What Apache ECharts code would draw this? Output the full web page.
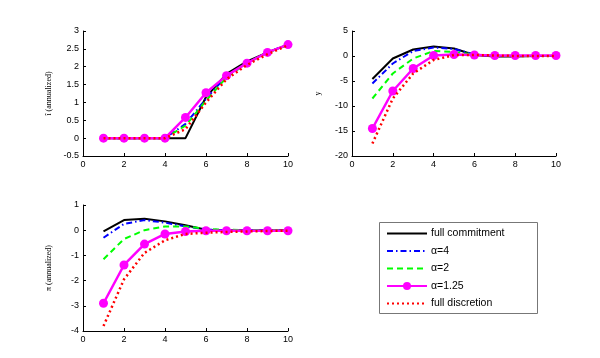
<!DOCTYPE html>
<html><head><meta charset="utf-8">
<script src="https://cdn.jsdelivr.net/npm/echarts@6/dist/echarts.min.js"></script>
<style>html,body{margin:0;padding:0;background:#fff}#c{width:600px;height:358px}</style>
</head><body><div id="c"></div>
<script>
const periods = [1,2,3,4,5,6,7,8,9,10];
const names = ['full commitment','\u03b1=4','\u03b1=2','\u03b1=1.25','full discretion'];
// interest rate (annualized)
const iCommit = [0,0,0,0,0,1.15,1.8,2.15,2.4,2.62];
const iA4     = [0,0,0,0,0.4,1.1,1.75,2.1,2.4,2.62];
const iA2     = [0,0,0,0,0.35,1.05,1.7,2.1,2.4,2.6];
const iA125   = [0,0,0,0,0.58,1.27,1.75,2.1,2.4,2.62];
const iDisc   = [0,0,0,0,0.25,1.0,1.65,2.05,2.35,2.6];
// output gap
const yCommit = [-4.6,-0.5,1.3,1.9,1.5,0.2,-0.1,-0.1,0,0];
const yA4     = [-5.5,-1.5,1.0,1.7,1.4,0.3,0,0,0,0];
const yA2     = [-8.5,-3.5,-0.5,1.0,0.8,0.3,0.1,0,0,0];
const yA125   = [-14.5,-7.0,-2.5,0.1,0.3,0.2,0.1,0.1,0.1,0.1];
const yDisc   = [-17.5,-8.5,-3.5,-0.8,0.2,0.2,0.1,0,0,0];
// inflation (annualized)
const pCommit = [-0.05,0.4,0.45,0.35,0.2,0.02,0,0,0,0];
const pA4     = [-0.3,0.25,0.4,0.3,0.15,0.03,0,0,0,0];
const pA2     = [-1.15,-0.35,0,0.15,0.15,0.05,0.02,0,0,0];
const pA125   = [-2.9,-1.38,-0.55,-0.15,-0.05,-0.02,-0.02,-0.02,-0.02,-0.02];
const pDisc   = [-3.8,-1.95,-0.9,-0.4,-0.15,-0.1,-0.07,-0.05,-0.03,-0.02];

const yTicksI = {min:-0.5,max:3,interval:0.5};
const yTicksY = {min:-20,max:5,interval:5};
const yTicksP = {min:-4,max:1,interval:1};

const styles = [
  {color:'#000000', type:'solid', width:2},
  {color:'#0000ff', type:[6,3,1.5,3], width:2},
  {color:'#00ff00', type:[6,4], width:2},
  {color:'#ff00ff', type:'solid', width:2.5, symbol:true},
  {color:'#ff0000', type:[2,3], width:2.5}
];
const groups = [[iCommit,iA4,iA2,iA125,iDisc],[yCommit,yA4,yA2,yA125,yDisc],[pCommit,pA4,pA2,pA125,pDisc]];

const axLabel = {color:'#000', fontSize:9, fontFamily:'Liberation Sans', margin:4};
function xAxis(i){return {type:'value',gridIndex:i,min:0,max:10,interval:2,
  axisLine:{onZero:false,lineStyle:{color:'#000',width:1}},axisTick:{inside:true,length:3,lineStyle:{color:'#000'}},
  axisLabel:axLabel,splitLine:{show:false}};}
function yAxis(i,t,name){return Object.assign({type:'value',gridIndex:i,name:name,nameLocation:'middle',nameGap:30,
  nameTextStyle:{color:'#000',fontSize:8,fontFamily:'Liberation Serif'},
  axisLine:{show:true,onZero:false,lineStyle:{color:'#000',width:1}},axisTick:{show:true,inside:true,length:3,lineStyle:{color:'#000'}},
  axisLabel:axLabel,splitLine:{show:false}},t);}

const series=[];
groups.forEach((g,gi)=>{
  g.forEach((arr,si)=>{
    const s=styles[si];
    series.push({type:'line',name:names[si],xAxisIndex:gi,yAxisIndex:gi,
      data:periods.map((p,k)=>[p,arr[k]]),
      symbol:s.symbol?'circle':'none',symbolSize:9,showSymbol:!!s.symbol,
      itemStyle:{color:s.color},
      lineStyle:{color:s.color,type:s.type,width:s.width},
      z:si===0?2:3+si, animation:false, silent:true});
  });
});

const legendData = names.map((n,i)=> styles[i].symbol ? {name:n} : {name:n, itemStyle:{color:'rgba(0,0,0,0)',borderWidth:0,opacity:0}});

const chart = echarts.init(document.getElementById('c'),null,{renderer:'canvas'});
chart.setOption({
  animation:false,
  backgroundColor:'#fff',
  grid:[
    {left:83,top:31,width:205,height:125},
    {left:352,top:31,width:204,height:125},
    {left:83,top:205,width:205,height:126}
  ],
  xAxis:[xAxis(0),xAxis(1),xAxis(2)],
  yAxis:[yAxis(0,yTicksI,'\u00ee (annualized)'),yAxis(1,yTicksY,'y'),yAxis(2,yTicksP,'\u03c0 (annualized)')],
  legend:{data:legendData,orient:'vertical',left:386,top:228,itemWidth:40,itemHeight:10,itemGap:6.5,
    textStyle:{color:'#000',fontSize:10.5,fontFamily:'Liberation Sans',padding:[0,0,0,-1]},padding:0},
  graphic:[{type:'rect',shape:{x:379.5,y:222.5,width:158,height:91},style:{fill:null,stroke:'#777',lineWidth:1},silent:true}],
  series:series
});
</script></body></html>
